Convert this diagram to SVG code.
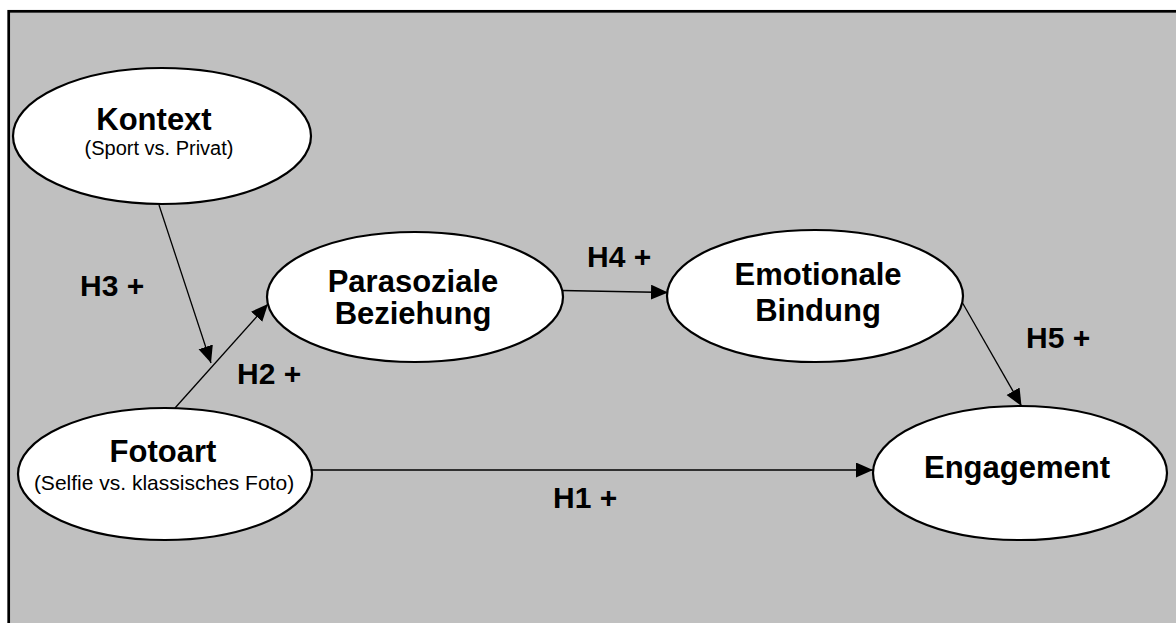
<svg xmlns="http://www.w3.org/2000/svg" width="1176" height="623" viewBox="0 0 1176 623">
  <style>
    .node ellipse { fill: #ffffff; stroke: #000000; stroke-width: 2.2; }
    .title { font-family: "Liberation Sans", Arial, sans-serif; font-weight: bold; font-size: 31px; fill: #000000; text-anchor: middle; }
    .sub { font-family: "Liberation Sans", Arial, sans-serif; font-size: 20px; fill: #000000; text-anchor: middle; }
    .hyp { font-family: "Liberation Sans", Arial, sans-serif; font-weight: bold; font-size: 30px; fill: #000000; }
    .edge { stroke: #000000; stroke-width: 1.3; fill: none; marker-end: url(#arrow); }
  </style>
  <defs>
    <marker id="arrow" markerUnits="userSpaceOnUse" markerWidth="18" markerHeight="16" refX="17" refY="7.5" orient="auto">
      <path d="M0,0 L17,7.5 L0,15 Z" fill="#000000"/>
    </marker>
  </defs>

  <rect width="1176" height="623" fill="#ffffff"/>
  <!-- model frame -->
  <rect x="8.7" y="11.3" width="1180" height="620" fill="#c0c0c0" stroke="#000000" stroke-width="2.7"/>

  <!-- hypothesised paths -->
  <g id="connectors">
    <line class="edge" x1="159" y1="205" x2="211" y2="363"/>
    <line class="edge" x1="175" y1="408" x2="268" y2="304"/>
    <line class="edge" x1="562" y1="290.5" x2="668" y2="292.5"/>
    <line class="edge" x1="962" y1="302" x2="1021.5" y2="406"/>
    <line class="edge" x1="312" y1="470" x2="873" y2="470"/>
  </g>

  <g id="labels">
    <text class="hyp" x="80" y="296">H3 +</text>
    <text class="hyp" x="237" y="384">H2 +</text>
    <text class="hyp" x="587" y="267">H4 +</text>
    <text class="hyp" x="1026" y="348">H5 +</text>
    <text class="hyp" x="553" y="508">H1 +</text>
  </g>

  <g id="kontext" class="node">
    <ellipse cx="162" cy="136" rx="149" ry="68"/>
    <text class="title" x="154" y="130">Kontext</text>
    <text class="sub" x="159" y="155">(Sport vs. Privat)</text>
  </g>

  <g id="fotoart" class="node">
    <ellipse cx="165" cy="474" rx="147" ry="66"/>
    <text class="title" x="163" y="462">Fotoart</text>
    <text class="sub" x="164" y="490" style="font-size:21px">(Selfie vs. klassisches Foto)</text>
  </g>

  <g id="parasoziale" class="node">
    <ellipse cx="415" cy="297" rx="148" ry="65"/>
    <text class="title" x="413" y="292">Parasoziale</text>
    <text class="title" x="413" y="324">Beziehung</text>
  </g>

  <g id="emotionale" class="node">
    <ellipse cx="815" cy="296" rx="148" ry="66"/>
    <text class="title" x="818" y="285">Emotionale</text>
    <text class="title" x="818" y="321">Bindung</text>
  </g>

  <g id="engagement" class="node">
    <ellipse cx="1020" cy="473" rx="147" ry="67"/>
    <text class="title" x="1017" y="478">Engagement</text>
  </g>
</svg>
